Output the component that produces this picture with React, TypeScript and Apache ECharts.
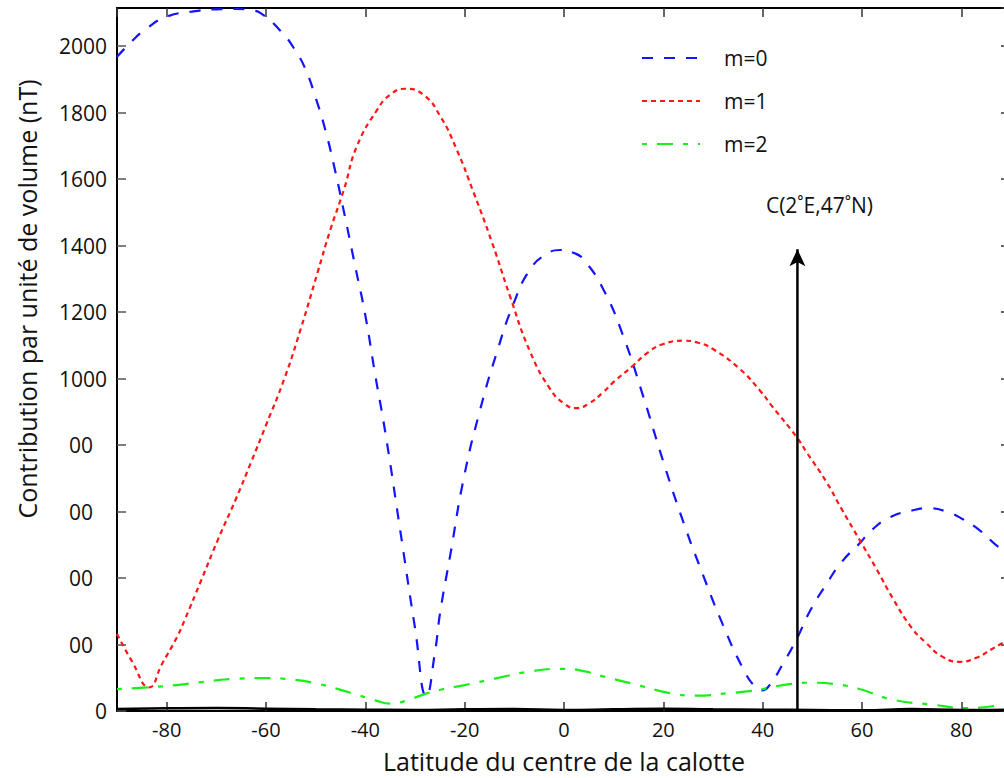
import React, { useEffect, useRef } from "react";
import * as echarts from "echarts";

// ---- data ----
const latM0 = [-90, -87, -84, -80, -75, -70, -66, -63, -61, -57, -54, -52, -50, -48, -46, -44, -42, -40, -38, -36, -33, -30, -27.7, -26, -24.9, -22.9, -20.2, -17, -13.5, -10.2, -6.8, -3.5, -0.8, 2, 3.9, 7.9, 11.9, 15.9, 20, 24, 28, 32, 36, 38.5, 40, 41.5, 44, 46.8, 49.5, 52.8, 56, 59.5, 62, 65.5, 70, 73.6, 77, 80.3, 84, 87, 90];
const valM0 = [1968, 2015, 2054, 2089, 2104, 2111, 2112, 2108, 2099, 2045, 1985, 1929, 1845, 1745, 1620, 1480, 1335, 1190, 1010, 840, 546, 250, 45, 175, 300, 469, 699, 900, 1080, 1224, 1329, 1375, 1387, 1378, 1359, 1269, 1129, 949, 750, 570, 409, 259, 129, 72, 62, 80, 140, 215, 300, 381, 450, 504, 545, 582, 603, 610, 600, 577, 540, 499, 468];

const latM1 = [-90, -87, -83.5, -81, -78, -76.4, -73, -69.7, -66, -63.1, -60, -56.3, -53, -49.6, -47, -44.3, -41.7, -37.6, -35, -32, -28.3, -24.9, -21.6, -18.2, -14.5, -10.9, -6.8, -2.8, 0, 2.5, 5, 7.9, 10, 13.9, 17, 20, 24, 27, 30, 35.4, 39.4, 42, 46.8, 49, 52.8, 56, 59.5, 63, 66.2, 70, 72.9, 76, 79.6, 83, 86, 88.3, 90];
const valM1 = [232, 150, 71, 140, 220, 273, 395, 515, 640, 745, 860, 1000, 1150, 1320, 1450, 1569, 1699, 1809, 1854, 1872, 1854, 1789, 1689, 1560, 1410, 1249, 1080, 969, 925, 911, 925, 959, 990, 1039, 1080, 1104, 1114, 1108, 1089, 1029, 965, 915, 825, 775, 690, 605, 515, 425, 339, 250, 205, 165, 148, 160, 185, 205, 220];

const latM2 = [-90, -83, -78, -73, -67, -60.4, -55, -49.6, -43, -38, -35, -32, -28.2, -24.9, -20, -13.5, -6.8, -0.1, 4, 7.9, 14.6, 21.3, 26.7, 33.4, 37.4, 40, 45, 50, 55, 59.5, 66.2, 74.2, 81, 85, 88.3, 90];
const valM2 = [66, 72, 78, 87, 96, 99, 95, 82, 55, 32, 22, 30, 50, 64, 78, 99, 119, 127, 120, 104, 79, 54, 46, 54, 60, 66, 80, 85, 80, 66, 34, 19, 9, 12, 19, 22];

const latRest = [-90, -80, -70, -60, -50, -40, -30, -20, -10, 0, 10, 20, 30, 40, 50, 60, 70, 80, 90];
const valRest = [6, 8, 9, 7, 5, 4, 3, 5, 6, 3, 5, 7, 5, 4, 3, 2, 6, 3, 4];

const seriesNames = ["m=0", "m=1", "m=2"];
const arrowLat = 47;
const arrowTop = 1389;
const arrowText = "C(2˚E,47˚N)";
const xTitle = "Latitude du centre de la calotte";
const yTitle = "Contribution par unité de volume (nT)";
const yTickLabels: Record<number, string> = {
  0: "0", 200: "00", 400: "00", 600: "00", 800: "00",
  1000: "1000", 1200: "1200", 1400: "1400", 1600: "1600", 1800: "1800", 2000: "2000",
};

const zip = (xs: number[], ys: number[]) => xs.map((x, i) => [x, ys[i]]);

const FONT = "Open Sans";

export default function App() {
  const ref = useRef<HTMLDivElement>(null);
  useEffect(() => {
    if (!ref.current) return;
    const chart = echarts.init(ref.current, undefined, { renderer: "svg" });
    const baseLine = (color: string, type: number[], width: number) => ({
      type: "line" as const,
      showSymbol: false,
      symbol: "none",
      smooth: 0.5,
      lineStyle: { color, type, width },
      itemStyle: { color },
      z: 3,
    });
    chart.setOption({
      animation: false,
      backgroundColor: "#ffffff",
      textStyle: { fontFamily: FONT },
      grid: { left: 117, right: 9, top: 8, bottom: 65, containLabel: false },
      legend: {
        data: seriesNames,
        orient: "vertical",
        left: 641,
        top: 47,
        padding: 0,
        itemWidth: 58,
        itemHeight: 14,
        itemGap: 21,
        itemStyle: { opacity: 0 },
        textStyle: { fontSize: 21, color: "#111", fontFamily: FONT, lineHeight: 22, padding: [0, 0, 0, 19] },
      },
      xAxis: [
        {
          type: "value",
          min: -90,
          max: 90,
          splitNumber: 9,
          position: "bottom",
          axisLine: { show: true, onZero: false, lineStyle: { color: "#000", width: 2 } },
          axisTick: { show: true, inside: true, length: 9, lineStyle: { color: "#333", width: 1.5 } },
          axisLabel: { show: true, showMinLabel: false, showMaxLabel: false, fontSize: 20, color: "#111", margin: 8, fontFamily: FONT },
          splitLine: { show: false },
          name: xTitle,
          nameLocation: "middle",
          nameGap: 37,
          nameTextStyle: { fontSize: 25, color: "#111", fontFamily: FONT },
        },
        {
          type: "value",
          min: -90,
          max: 90,
          splitNumber: 9,
          position: "top",
          axisLine: { show: true, onZero: false, lineStyle: { color: "#000", width: 2 } },
          axisTick: { show: true, inside: true, length: 9, lineStyle: { color: "#333", width: 1.5 } },
          axisLabel: { show: false },
          splitLine: { show: false },
        },
      ],
      yAxis: [
        {
          type: "value",
          min: 0,
          max: 2115,
          interval: 200,
          position: "left",
          axisLine: { show: true, onZero: false, lineStyle: { color: "#000", width: 2 } },
          axisTick: { show: true, inside: true, length: 9, lineStyle: { color: "#555", width: 1.5 } },
          axisLabel: {
            show: true,
            showMaxLabel: false,
            fontSize: 21,
            color: "#111",
            margin: 10,
            fontFamily: FONT,
            formatter: (v: number) => {
              const s = yTickLabels[v];
              if (s === undefined) return "";
              return s === "00" ? "{s|00}" : s;
            },
            rich: { s: { fontSize: 21, fontFamily: FONT, color: "#111", padding: [0, 14, 0, 0] } },
          },
          splitLine: { show: false },
        },
        {
          type: "value",
          min: 0,
          max: 2115,
          interval: 200,
          position: "right",
          axisLine: { show: true, onZero: false, lineStyle: { color: "#000", width: 2 } },
          axisTick: { show: true, inside: true, length: 10, lineStyle: { color: "#333", width: 1.5 } },
          axisLabel: { show: false },
          splitLine: { show: false },
        },
      ],
      graphic: [
        {
          type: "text",
          x: 27,
          y: 299,
          rotation: Math.PI / 2,
          style: {
            text: yTitle,
            fontSize: 25,
            fontFamily: FONT,
            fill: "#111",
            align: "center",
            verticalAlign: "middle",
          },
        },
      ],
      series: [
        { name: seriesNames[0], data: zip(latM0, valM0), ...baseLine("#1414ff", [11, 11], 2.2) },
        { name: seriesNames[1], data: zip(latM1, valM1), ...baseLine("#ff1616", [5, 4], 2.2) },
        { name: seriesNames[2], data: zip(latM2, valM2), ...baseLine("#18f018", [5, 10, 16, 10], 2.2) },
        {
          name: "reste",
          type: "line",
          showSymbol: false,
          symbol: "none",
          smooth: 0.5,
          data: zip(latRest, valRest),
          lineStyle: { color: "#000", width: 2.5, type: "solid" },
          itemStyle: { color: "#000" },
          z: 4,
        },
        {
          name: "C",
          type: "line",
          symbol: "none",
          showSymbol: true,
          data: [
            { value: [arrowLat, 0], symbol: "none" },
            {
              value: [arrowLat, arrowTop],
              symbol: "arrow",
              symbolSize: [12, 17],
              label: {
                show: true,
                position: "top",
                formatter: arrowText,
                fontSize: 21,
                fontFamily: FONT,
                color: "#111",
                offset: [22, -29],
              },
            },
          ],
          lineStyle: { color: "#000", width: 2.5 },
          itemStyle: { color: "#000" },
          z: 5,
        },
      ],
    });
    return () => chart.dispose();
  }, []);
  return (
    <div
      ref={ref}
      style={{ position: "fixed", left: 0, top: 0, width: 1020, height: 778, background: "#fff" }}
    />
  );
}
